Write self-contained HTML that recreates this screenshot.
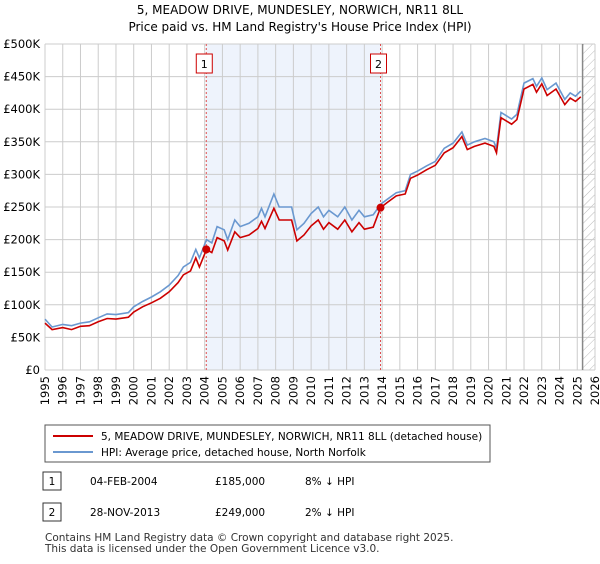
<!DOCTYPE html>
<html><head><meta charset="utf-8"><style>
body{margin:0;background:#fff;font-family:"DejaVu Sans","Liberation Sans",sans-serif;}
svg text{font-family:"DejaVu Sans","Liberation Sans",sans-serif;}
</style></head><body>
<svg id="c" width="600" height="560" xmlns="http://www.w3.org/2000/svg">
<defs><pattern id="hatch" width="6" height="6" patternUnits="userSpaceOnUse" patternTransform="rotate(45)"><line x1="0" y1="0" x2="0" y2="6" stroke="#bbb" stroke-width="1"/></pattern></defs>
<text x="300" y="14" text-anchor="middle" font-size="12">5, MEADOW DRIVE, MUNDESLEY, NORWICH, NR11 8LL</text>
<text x="300" y="31" text-anchor="middle" font-size="12">Price paid vs. HM Land Registry's House Price Index (HPI)</text>
<g id="plot"></g>
<rect x="45" y="425" width="445" height="37" fill="#fff" stroke="#555"/>
<line x1="53" y1="436" x2="93" y2="436" stroke="#cc0000" stroke-width="2"/>
<text x="101" y="440" font-size="10.5">5, MEADOW DRIVE, MUNDESLEY, NORWICH, NR11 8LL (detached house)</text>
<line x1="53" y1="452" x2="93" y2="452" stroke="#6a98d0" stroke-width="2"/>
<text x="101" y="456" font-size="10.5">HPI: Average price, detached house, North Norfolk</text>
<rect x="43" y="472" width="18" height="18" fill="#fff" stroke="#333"/>
<text x="52" y="485" font-size="10.5" text-anchor="middle">1</text>
<text x="90" y="485" font-size="10.5">04-FEB-2004</text>
<text x="215" y="485" font-size="10.5">£185,000</text>
<text x="305" y="485" font-size="10.5">8% ↓ HPI</text>
<rect x="43" y="503" width="18" height="18" fill="#fff" stroke="#333"/>
<text x="52" y="516" font-size="10.5" text-anchor="middle">2</text>
<text x="90" y="516" font-size="10.5">28-NOV-2013</text>
<text x="215" y="516" font-size="10.5">£249,000</text>
<text x="305" y="516" font-size="10.5">2% ↓ HPI</text>
<text x="45" y="541" font-size="10.5" fill="#333">Contains HM Land Registry data © Crown copyright and database right 2025.</text>
<text x="45" y="552" font-size="10.5" fill="#333">This data is licensed under the Open Government Licence v3.0.</text>
</svg>
<script>
const yTicks=[0,50,100,150,200,250,300,350,400,450,500];
const yLabels=["£0","£50K","£100K","£150K","£200K","£250K","£300K","£350K","£400K","£450K","£500K"];
const xYears=[1995,1996,1997,1998,1999,2000,2001,2002,2003,2004,2005,2006,2007,2008,2009,2010,2011,2012,2013,2014,2015,2016,2017,2018,2019,2020,2021,2022,2023,2024,2025,2026];
const hpiT=[1995,1995.4,1996,1996.5,1997,1997.5,1998,1998.5,1999,1999.7,2000,2000.5,2001,2001.5,2002,2002.5,2002.8,2003.2,2003.5,2003.7,2004.1,2004.4,2004.7,2005.1,2005.3,2005.7,2006,2006.5,2007,2007.2,2007.4,2007.9,2008.2,2008.6,2008.9,2009.2,2009.6,2010,2010.4,2010.7,2011,2011.5,2011.9,2012.3,2012.7,2013,2013.5,2013.91,2014.3,2014.8,2015.3,2015.6,2016,2016.5,2017,2017.5,2018,2018.5,2018.8,2019.2,2019.8,2020.3,2020.45,2020.7,2021,2021.3,2021.6,2022,2022.5,2022.7,2023,2023.3,2023.8,2024.3,2024.6,2024.9,2025.2];
const hpiV=[78,66,70,68,72,74,80,86,85,88,97,105,112,120,130,145,158,165,185,172,200,195,220,215,200,230,220,225,235,248,235,270,250,250,250,215,225,240,250,235,245,235,250,230,245,235,238,254,262,272,275,300,305,313,320,340,348,365,345,350,355,350,340,395,390,385,392,440,447,435,448,430,440,415,425,420,428];
const ppT=hpiT;
const ppV=[72,62,65,62,67,68,74,79,78,81,89,97,103,110,120,134,146,152,172,158,185,180,203,198,184,212,203,207,217,228,217,248,230,230,230,198,207,221,230,216,226,216,230,212,226,216,219,249,257,267,270,294,299,307,314,333,341,358,338,343,348,343,333,387,382,377,384,431,438,426,439,421,431,407,417,412,419];
const sales=[[2004.09,185],[2013.91,249]];
const x0=45,x1=595,y0=370,y1=44;
const X=t=>x0+(t-1995)/(2026-1995)*(x1-x0);
const Y=v=>y0-v/500*(y0-y1);
const g=document.getElementById('plot');const NS="http://www.w3.org/2000/svg";
function mk(tag,attrs,parent){const e=document.createElementNS(NS,tag);for(const k in attrs)e.setAttribute(k,attrs[k]);(parent||g).appendChild(e);return e;}
let e=mk('rect',{x:X(sales[0][0]),y:y1,width:X(sales[1][0])-X(sales[0][0]),height:y0-y1,fill:'#eef3fc'});

e=mk('rect',{x:X(2025.3),y:y1,width:x1-X(2025.3),height:y0-y1,fill:'url(#hatch)'});

yTicks.forEach((v,i)=>{let l=mk('line',{x1:x0,x2:x1,y1:Y(v),y2:Y(v),stroke:'#ccc'});

let t=mk('text',{x:40,y:Y(v)+4,'text-anchor':'end','font-size':'11.5'});t.textContent=yLabels[i];
});
xYears.forEach(yr=>{let l=mk('line',{x1:X(yr),x2:X(yr),y1:y1,y2:y0,stroke:'#ccc'});

let t=mk('text',{x:0,y:0,'font-size':'11.5','text-anchor':'end',transform:`translate(${X(yr)+4},${y0+6}) rotate(-90)`});t.textContent=yr;
});
e=mk('line',{x1:X(2025.3),x2:X(2025.3),y1:y1,y2:y0,stroke:'#888','stroke-width':1.5});

sales.forEach((s,i)=>{let l=mk('line',{x1:X(s[0]),x2:X(s[0]),y1:y1,y2:y0,stroke:'#e05050','stroke-dasharray':'2,2'});

let r=mk('rect',{x:X(s[0])-10,y:54,width:16,height:19,fill:'#fff',stroke:'#cc0000'});

let t=mk('text',{x:X(s[0])-2,y:68,'text-anchor':'middle','font-size':'11'});t.textContent=i+1;
});
const line=(T,V)=>T.map((t,i)=>(i?'L':'M')+X(t).toFixed(1)+','+Y(V[i]).toFixed(1)).join('');
e=mk('path',{d:line(hpiT,hpiV),fill:'none',stroke:'#6a98d0','stroke-width':1.6});

e=mk('path',{d:line(ppT,ppV),fill:'none',stroke:'#cc0000','stroke-width':1.6});

sales.forEach(s=>{let c=mk('circle',{cx:X(s[0]),cy:Y(s[1]),r:4,fill:'#cc0000'});
});
</script>
</body></html>
